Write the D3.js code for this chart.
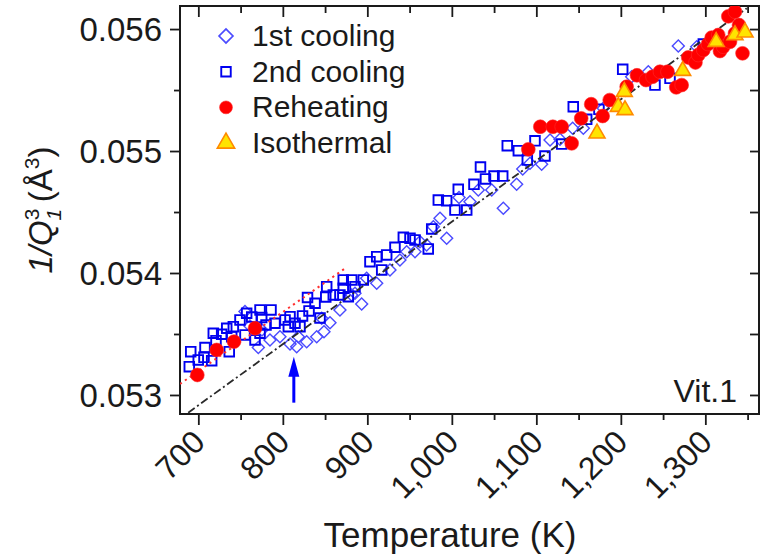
<!DOCTYPE html>
<html>
<head>
<meta charset="utf-8">
<script src="https://cdn.jsdelivr.net/npm/d3@7"></script>
<style>
  html, body { margin: 0; padding: 0; background: #fff; }
  svg { display: block; font-family: "Liberation Sans", Arial, sans-serif; }
</style>
</head>
<body>
<svg id="chart" width="763" height="556"></svg>
<script>
// ---- data: temperature (K) and 1/Q1^3 (Å^3) ----
const xTicks = [700, 800, 900, 1000, 1100, 1200, 1300];
const xMinorTicks = [750, 850, 950, 1050, 1150, 1250, 1350];
const yTicks = [0.053, 0.054, 0.055, 0.056];
const yMinorTicks = [0.0535, 0.0545, 0.0555];
const seriesNames = ["1st cooling", "2nd cooling", "Reheating", "Isothermal"];

const firstCooling = [
  [755.2,0.053684],[771.0,0.053389],[784.8,0.053451],[796.6,0.053478],[808.5,0.053418],
  [816.4,0.053396],[828.2,0.053437],[818.3,0.053478],[840.1,0.053478],[848.7,0.053519],
  [855.8,0.053593],[846.0,0.053629],[867.6,0.053697],[881.5,0.053820],[893.3,0.053746],
  [885.4,0.053834],[911.1,0.053916],[899.2,0.053957],[926.8,0.054025],[938.6,0.054107],
  [946.6,0.054175],[956.4,0.054175],[962.3,0.054257],[970.2,0.054230],[978.1,0.054380],
  [986.0,0.054448],[993.9,0.054284],[1008.5,0.054619],[1021.5,0.054584],[1031.3,0.054680],
  [1047.2,0.054680],[1060.9,0.054530],[1076.7,0.054727],[1083.9,0.054853],[1092.5,0.054899],
  [1106.3,0.054891],[1116.2,0.055090],[1128.0,0.055096],[1143.0,0.055186],[1155.6,0.055186],
  [1179.2,0.055350],[1212.8,0.055609],[1232.5,0.055650],[1268.0,0.055861],[1289.8,0.055855],
  [775.3,0.053533],[761.1,0.053566]
];

const secondCooling = [
  [691.0,0.053355],[689.3,0.053232],[699.9,0.053287],[707.9,0.053389],[706.7,0.053309],
  [715.8,0.053281],[717.7,0.053506],[727.6,0.053498],[720.9,0.053445],[733.6,0.053547],
  [739.5,0.053478],[736.6,0.053355],[741.4,0.053560],[749.3,0.053615],[755.2,0.053492],
  [757.2,0.053670],[763.2,0.053639],[773.0,0.053697],[786.0,0.053697],[775.0,0.053635],
  [767.1,0.053451],[780.1,0.053574],[773.0,0.053506],[790.7,0.053588],[802.6,0.053615],
  [806.5,0.053560],[808.5,0.053642],[814.4,0.053588],[820.3,0.053560],[823.3,0.053648],
  [831.0,0.053689],[829.2,0.053799],[838.1,0.053752],[844.0,0.053631],[850.8,0.053803],
  [851.9,0.053888],[859.7,0.053820],[871.5,0.053943],[881.5,0.053943],[871.5,0.053875],
  [885.4,0.053888],[895.2,0.053943],[877.5,0.053806],[867.6,0.053820],[903.1,0.054093],
  [911.1,0.054134],[917.0,0.054025],[922.9,0.054148],[932.7,0.054211],[942.6,0.054293],
  [950.5,0.054284],[956.4,0.054271],[972.1,0.054197],[976.2,0.054361],[984.0,0.054598],
  [993.9,0.054593],[1003.7,0.054516],[1007.6,0.054686],[1017.6,0.054516],[1026.2,0.054727],
  [1033.9,0.054869],[1039.8,0.054771],[1049.9,0.054795],[1060.2,0.054795],[1065.6,0.055044],
  [1078.7,0.055003],[1089.3,0.054926],[1098.4,0.055084],[1110.2,0.054959],[1130.0,0.055057],
  [1143.7,0.055363],[1159.6,0.055260],[1174.1,0.055342],[1202.2,0.055670],[1240.4,0.055541],
  [1258.2,0.055596],[1297.6,0.055877]
];

const reheating = [
  [698.8,0.053164],[721.7,0.053369],[742.2,0.053437],[767.1,0.053547],[1090.5,0.055014],
  [1104.7,0.055199],[1119.5,0.055199],[1130.0,0.055199],[1141.8,0.055063],[1153.1,0.055268],
  [1164.9,0.055384],[1178.5,0.055287],[1186.8,0.055418],[1206.9,0.055527],[1219.1,0.055621],
  [1229.8,0.055582],[1237.5,0.055609],[1246.3,0.055650],[1255.2,0.055650],[1265.6,0.055522],
  [1272.0,0.055541],[1279.8,0.055767],[1288.3,0.055726],[1291.6,0.055787],[1297.6,0.055828],
  [1303.1,0.055877],[1307.5,0.055930],[1315.3,0.055951],[1317.3,0.055820],[1321.2,0.055855],
  [1329.2,0.055896],[1335.1,0.055965],[1327.2,0.056104],[1335.1,0.056142],[1339.8,0.056033],
  [1344.0,0.055801]
];

const isothermal = [
  [1171.8,0.055145],[1204.1,0.055486],[1197.0,0.055363],[1204.9,0.055336],[1273.2,0.055658],
  [1312.8,0.055896],[1335.1,0.055951],[1347.0,0.055973]
];

// guide lines: low-temperature fit (red dotted) and high-temperature fit (dash-dot)
const lowFit = [[678.3, 0.053090], [875.6, 0.054047]];
const highFit = [[688.0, 0.052855], [1349.0, 0.056170]];
// arrow marking the transition temperature
const arrowT = 813;
const arrowSpan = [0.052937, 0.053314];

// ---- layout ----
const svg = d3.select("#chart");
const L = 180, R = 759, T = 6, B = 414;

const x = d3.scaleLinear().domain([678.3, 1363.5]).range([L, R]);
const y = d3.scaleLinear().domain([0.052844, 0.056189]).range([B, T]);

const ink = "#1a1a1a";

svg.append("defs").append("clipPath").attr("id", "plot-clip")
  .append("rect").attr("x", L).attr("y", T).attr("width", R - L).attr("height", B - T);

// ---- axes ----
function styleAxis(g) {
  g.selectAll(".domain").remove();
  g.selectAll(".tick line").attr("stroke", ink).attr("stroke-width", 1.8);
  g.selectAll(".tick text").attr("fill", ink);
}

// bottom: major + minor ticks, outward
svg.append("g").attr("transform", `translate(0,${B})`)
  .call(d3.axisBottom(x).tickValues(xMinorTicks).tickSize(6).tickFormat(""))
  .call(styleAxis);
const xAxisG = svg.append("g").attr("transform", `translate(0,${B})`)
  .call(d3.axisBottom(x).tickValues(xTicks).tickSize(11).tickFormat(d3.format(",")))
  .call(styleAxis);
xAxisG.selectAll(".tick text")
  .attr("font-size", 32)
  .attr("text-anchor", "end")
  .attr("x", 0).attr("y", 0).attr("dx", 0).attr("dy", 0)
  .attr("transform", "translate(8,30) rotate(-45)");

// top: inward ticks
svg.append("g").attr("transform", `translate(0,${T})`)
  .call(d3.axisBottom(x).tickValues(xMinorTicks).tickSize(7).tickFormat(""))
  .call(styleAxis);
svg.append("g").attr("transform", `translate(0,${T})`)
  .call(d3.axisBottom(x).tickValues(xTicks).tickSize(11).tickFormat(""))
  .call(styleAxis);

// left: outward ticks with labels
svg.append("g").attr("transform", `translate(${L},0)`)
  .call(d3.axisLeft(y).tickValues(yMinorTicks).tickSize(6).tickFormat(""))
  .call(styleAxis);
const yAxisG = svg.append("g").attr("transform", `translate(${L},0)`)
  .call(d3.axisLeft(y).tickValues(yTicks).tickSize(10).tickPadding(8).tickFormat(d3.format(".3f")))
  .call(styleAxis);
yAxisG.selectAll(".tick text").attr("font-size", 33).attr("dy", "0.36em");

// right: inward ticks
svg.append("g").attr("transform", `translate(${R},0)`)
  .call(d3.axisLeft(y).tickValues(yTicks.concat(yMinorTicks)).tickSize(9).tickFormat(""))
  .call(styleAxis);

// frame
svg.append("rect").attr("x", L).attr("y", T).attr("width", R - L).attr("height", B - T)
  .attr("fill", "none").attr("stroke", ink).attr("stroke-width", 2);

// axis titles
svg.append("text")
  .attr("x", 450).attr("y", 547)
  .attr("text-anchor", "middle").attr("font-size", 35).attr("fill", ink)
  .text("Temperature (K)");

const yTitle = svg.append("text")
  .attr("transform", "translate(52,210) rotate(-90)")
  .attr("text-anchor", "middle").attr("font-size", 33).attr("fill", ink);
yTitle.append("tspan").attr("font-style", "italic").text("1/Q");
yTitle.append("tspan").attr("font-size", 21).attr("dy", -13).text("3");
yTitle.append("tspan").attr("font-size", 21).attr("font-style", "italic").attr("dx", -12).attr("dy", 22).text("1");
yTitle.append("tspan").attr("dy", -9).text("\u2009(Å");
yTitle.append("tspan").attr("font-size", 21).attr("dy", -13).text("3");
yTitle.append("tspan").attr("dy", 13).text(")");

// ---- plot contents ----
const plot = svg.append("g").attr("clip-path", "url(#plot-clip)");

const diamond = d3.symbol().type(d3.symbolSquare).size(72)();
const square = d3.symbol().type(d3.symbolSquare).size(92)();
const circle = d3.symbol().type(d3.symbolCircle).size(150)();
const triangle = d3.symbol().type(d3.symbolTriangle).size(110)();

plot.append("g").selectAll("path").data(firstCooling).join("path")
  .attr("d", diamond)
  .attr("transform", d => `translate(${x(d[0])},${y(d[1])}) rotate(45)`)
  .attr("fill", "none").attr("stroke", "#4b4bff").attr("stroke-width", 1.4);

plot.append("g").selectAll("path").data(secondCooling).join("path")
  .attr("d", square)
  .attr("transform", d => `translate(${x(d[0])},${y(d[1])})`)
  .attr("fill", "none").attr("stroke", "#0000f0").attr("stroke-width", 1.9);

const line = d3.line().x(d => x(d[0])).y(d => y(d[1]));
plot.append("path").datum(lowFit).attr("d", line)
  .attr("fill", "none").attr("stroke", "#ff3030").attr("stroke-width", 2)
  .attr("stroke-dasharray", "2.2,3.8");
plot.append("path").datum(highFit).attr("d", line)
  .attr("fill", "none").attr("stroke", "#2a2a2a").attr("stroke-width", 1.8)
  .attr("stroke-dasharray", "8,3,2,3");

plot.append("g").selectAll("path").data(reheating).join("path")
  .attr("d", circle)
  .attr("transform", d => `translate(${x(d[0])},${y(d[1])})`)
  .attr("fill", "#ff0000").attr("stroke", "#ff2a2a").attr("stroke-width", 0.6);

plot.append("g").selectAll("path").data(isothermal).join("path")
  .attr("d", triangle)
  .attr("transform", d => `translate(${x(d[0])},${y(d[1])})`)
  .attr("fill", "#ffe400").attr("stroke", "#ff8a00").attr("stroke-width", 1.6);

// arrow
const ax = x(arrowT);
const yTail = y(arrowSpan[0]), yTip = y(arrowSpan[1]);
plot.append("line").attr("x1", ax).attr("x2", ax).attr("y1", yTail).attr("y2", yTip + 16)
  .attr("stroke", "#0000ff").attr("stroke-width", 3);
plot.append("path")
  .attr("d", `M${ax},${yTip} L${ax - 5.5},${yTip + 20} L${ax + 5.5},${yTip + 20} Z`)
  .attr("fill", "#0000ff");

// sample label
svg.append("text").attr("x", 737).attr("y", 402)
  .attr("text-anchor", "end").attr("font-size", 32).attr("fill", ink)
  .text("Vit.1");

// ---- legend ----
const legend = svg.append("g");
const legendShapes = [
  {d: d3.symbol().type(d3.symbolSquare).size(98)(), rot: 45, fill: "none", stroke: "#4b4bff", sw: 1.6},
  {d: d3.symbol().type(d3.symbolSquare).size(90)(), rot: 0, fill: "none", stroke: "#0000f0", sw: 1.9},
  {d: d3.symbol().type(d3.symbolCircle).size(130)(), rot: 0, fill: "#ff0000", stroke: "#ff2a2a", sw: 0.6},
  {d: d3.symbol().type(d3.symbolTriangle).size(130)(), rot: 0, fill: "#ffe400", stroke: "#ff8a00", sw: 1.6}
];
seriesNames.forEach((name, i) => {
  const cy = 36 + i * 35.7;
  const s = legendShapes[i];
  legend.append("path").attr("d", s.d)
    .attr("transform", `translate(226,${cy}) rotate(${s.rot})`)
    .attr("fill", s.fill).attr("stroke", s.stroke).attr("stroke-width", s.sw);
  legend.append("text").attr("x", 252).attr("y", cy + 10)
    .attr("font-size", 30).attr("fill", ink).text(name);
});
</script>
</body>
</html>
